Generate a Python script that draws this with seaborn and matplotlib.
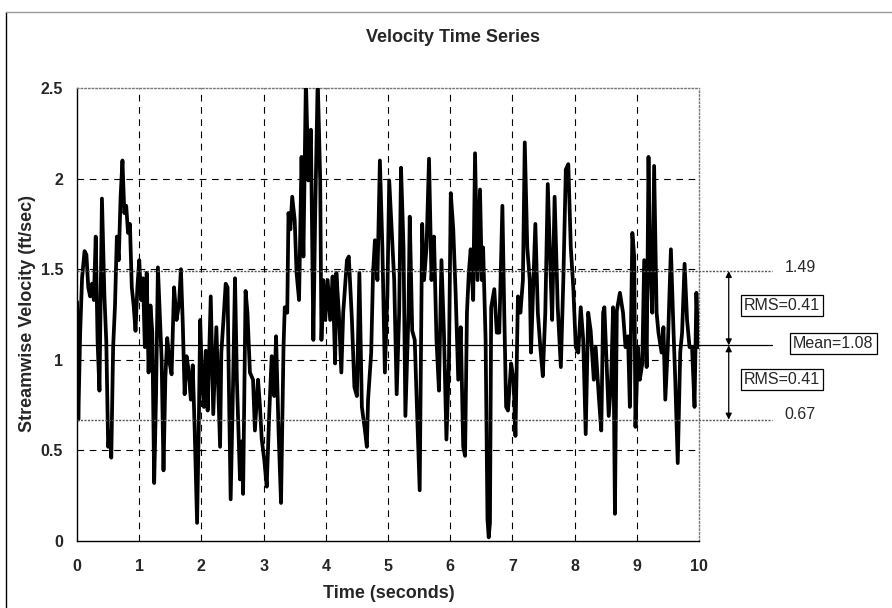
import pandas as pd
import matplotlib.pyplot as plt
import seaborn as sns
from matplotlib.lines import Line2D

# turning points of the trace
time_s = [
    0.00, 0.02, 0.05, 0.08, 0.12, 0.15, 0.18, 0.21, 0.24, 0.27, 0.30, 0.33, 0.36, 0.40, 0.44, 0.47,
    0.50, 0.53, 0.55, 0.58, 0.61, 0.64, 0.67, 0.70, 0.73, 0.76, 0.79, 0.82, 0.85, 0.88, 0.91, 0.94,
    0.97, 1.00, 1.03, 1.06, 1.09, 1.12, 1.15, 1.18, 1.21, 1.24, 1.27, 1.30, 1.33, 1.36, 1.39, 1.42,
    1.45, 1.49, 1.52, 1.56, 1.60, 1.64, 1.67, 1.70, 1.73, 1.76, 1.79, 1.83, 1.86, 1.89, 1.91, 1.93,
    1.96, 1.98, 2.01, 2.04, 2.07, 2.10, 2.15, 2.19, 2.24, 2.27, 2.30, 2.32, 2.36, 2.39, 2.42, 2.44,
    2.47, 2.51, 2.54, 2.57, 2.62, 2.65, 2.67, 2.71, 2.74, 2.78, 2.83, 2.86, 2.91, 2.94, 2.97, 3.01,
    3.05, 3.09, 3.13, 3.17, 3.20, 3.24, 3.28, 3.32, 3.34, 3.38, 3.40, 3.43, 3.46, 3.50, 3.53, 3.57,
    3.61, 3.64, 3.68, 3.72, 3.76, 3.80, 3.83, 3.87, 3.91, 3.93, 3.96, 3.99, 4.03, 4.07, 4.11, 4.15,
    4.17, 4.21, 4.25, 4.28, 4.34, 4.37, 4.42, 4.46, 4.50, 4.54, 4.58, 4.63, 4.66, 4.68, 4.73, 4.76,
    4.79, 4.83, 4.87, 4.91, 4.95, 4.99, 5.02, 5.06, 5.10, 5.14, 5.18, 5.21, 5.25, 5.28, 5.33, 5.35,
    5.39, 5.43, 5.47, 5.51, 5.55, 5.58, 5.62, 5.66, 5.70, 5.74, 5.78, 5.82, 5.86, 5.90, 5.94, 5.98,
    6.01, 6.05, 6.09, 6.13, 6.17, 6.21, 6.24, 6.27, 6.30, 6.33, 6.37, 6.40, 6.44, 6.48, 6.51, 6.53,
    6.57, 6.60, 6.62, 6.64, 6.66, 6.71, 6.75, 6.79, 6.84, 6.87, 6.90, 6.93, 6.98, 7.02, 7.05, 7.09,
    7.13, 7.17, 7.20, 7.24, 7.28, 7.30, 7.34, 7.37, 7.41, 7.45, 7.49, 7.53, 7.57, 7.61, 7.64, 7.68,
    7.73, 7.78, 7.82, 7.86, 7.90, 7.94, 7.98, 8.02, 8.06, 8.10, 8.14, 8.18, 8.22, 8.26, 8.31, 8.34,
    8.39, 8.43, 8.46, 8.48, 8.52, 8.55, 8.59, 8.62, 8.65, 8.68, 8.73, 8.78, 8.82, 8.86, 8.89, 8.93,
    8.96, 8.98, 9.02, 9.05, 9.09, 9.12, 9.16, 9.19, 9.21, 9.25, 9.28, 9.32, 9.35, 9.40, 9.43, 9.46,
    9.50, 9.55, 9.59, 9.62, 9.66, 9.70, 9.73, 9.77, 9.81, 9.85, 9.89, 9.93, 9.96, 9.99,
]
velocity = [
    1.32, 0.67, 1.15, 1.45, 1.60, 1.58, 1.40, 1.35, 1.42, 1.33, 1.68, 1.10, 0.83, 1.89, 1.35, 1.10,
    0.52, 0.60, 0.46, 1.07, 1.30, 1.68, 1.55, 1.90, 2.10, 1.81, 1.85, 1.70, 1.75, 1.40, 1.30, 1.16,
    1.40, 1.55, 1.33, 1.45, 1.07, 1.48, 0.93, 1.30, 1.15, 0.32, 0.80, 1.51, 1.26, 1.00, 0.39, 0.90,
    1.12, 0.98, 0.92, 1.40, 1.22, 1.31, 1.50, 1.20, 0.81, 1.02, 0.95, 0.78, 0.97, 0.63, 0.37, 0.10,
    0.70, 1.22, 0.89, 0.74, 1.05, 0.72, 1.35, 0.70, 1.18, 0.85, 0.52, 1.04, 1.25, 1.42, 1.40, 0.89,
    0.23, 0.89, 1.45, 0.89, 0.34, 0.55, 0.26, 1.38, 1.26, 0.93, 0.89, 0.61, 0.89, 0.75, 0.56, 0.45,
    0.30, 0.70, 1.02, 0.80, 1.13, 0.61, 0.21, 1.07, 1.29, 1.26, 1.81, 1.72, 1.90, 1.77, 1.48, 1.33,
    2.12, 1.57, 2.55, 1.99, 2.27, 1.11, 1.81, 2.55, 1.99, 1.11, 1.44, 1.22, 1.44, 1.22, 1.46, 0.98,
    1.48, 1.26, 0.93, 1.26, 1.55, 1.57, 1.22, 0.85, 0.80, 1.48, 0.74, 0.61, 0.52, 0.78, 1.04, 1.48,
    1.66, 1.44, 2.10, 1.62, 0.93, 1.35, 1.99, 1.72, 1.44, 0.81, 1.26, 2.06, 1.62, 0.69, 1.26, 1.79,
    1.16, 1.11, 0.70, 0.28, 1.75, 1.44, 1.62, 2.11, 1.44, 1.68, 1.11, 0.83, 1.55, 1.15, 0.56, 0.98,
    1.92, 1.72, 1.35, 0.89, 1.18, 0.52, 0.47, 1.26, 1.48, 1.61, 1.33, 2.14, 1.44, 1.94, 1.44, 1.62,
    1.11, 0.12, 0.02, 0.10, 1.29, 1.39, 1.15, 1.15, 1.85, 1.26, 0.74, 0.72, 0.98, 0.89, 0.58, 1.35,
    1.26, 1.44, 2.20, 1.62, 1.44, 1.04, 1.44, 1.75, 1.26, 1.07, 0.91, 1.26, 1.97, 1.53, 1.22, 1.90,
    1.29, 0.96, 1.44, 2.05, 2.08, 1.62, 1.40, 1.07, 1.04, 1.29, 1.11, 0.59, 1.26, 1.16, 0.89, 1.07,
    0.80, 0.61, 1.26, 1.29, 0.94, 0.69, 0.89, 1.29, 0.15, 1.27, 1.37, 1.26, 1.07, 1.13, 0.74, 1.70,
    1.57, 0.63, 1.07, 0.89, 0.98, 1.55, 0.96, 2.12, 1.62, 1.26, 2.07, 1.26, 1.15, 1.04, 1.18, 0.78,
    1.07, 1.61, 1.18, 0.89, 0.43, 1.04, 1.15, 1.53, 1.22, 1.07, 1.07, 0.74, 1.37, 1.07,
]

mean_v = 1.08
rms_v = 0.41
upper_v = 1.49
lower_v = 0.67
x_ticks = list(range(0, 11))
y_ticks = [0, 0.5, 1, 1.5, 2, 2.5]
y_ticklabels = ['0', '0.5', '1', '1.5', '2', '2.5']

sns.set_style("white")
plt.rcParams['font.family'] = ['Liberation Sans', 'DejaVu Sans']

fig = plt.figure(figsize=(8.92, 6.08), dpi=100)
ax = fig.add_axes([0.0864, 0.1102, 0.6971, 0.745])

df = pd.DataFrame({'time': time_s, 'velocity': velocity})

# grid first so the trace sits on top
for yv in [0.5, 1, 1.5, 2]:
    ax.axhline(yv, color='black', lw=0.8, ls=(0, (6, 5)), zorder=1)
for xv in range(1, 10):
    ax.axvline(xv, color='black', lw=0.8, ls=(0, (6, 5)), zorder=1)

sns.lineplot(data=df, x='time', y='velocity', ax=ax, color='black', lw=2.7,
             estimator=None, sort=False, zorder=3)

ax.set_xlim(0, 10)
ax.set_ylim(0, 2.5)
ax.set_xticks(x_ticks)
ax.set_yticks(y_ticks)
ax.set_yticklabels(y_ticklabels)
ax.set_xlabel('')
ax.set_ylabel('')
ax.tick_params(axis='both', labelsize=11.5, direction='out', length=4, width=0.8, color='black')
ax.tick_params(axis='x', pad=9)
ax.tick_params(axis='y', pad=6)
for lab in ax.get_xticklabels() + ax.get_yticklabels():
    lab.set_fontweight('bold')

for side in ['left', 'bottom']:
    ax.spines[side].set_color('black')
    ax.spines[side].set_linewidth(1.0)
for side in ['top', 'right']:
    ax.spines[side].set_color('#777777')
    ax.spines[side].set_linewidth(1.0)
    ax.spines[side].set_linestyle(':')

# mean and +/- rms lines, running past the plot into the margin
line_end = 11.17
ax.plot([0, line_end], [mean_v, mean_v], color='black', lw=0.9, clip_on=False, zorder=4)
for yv in [upper_v, lower_v]:
    ax.plot([0, line_end], [yv, yv], color='#555555', lw=1.0, ls=(0, (1.5, 1)), clip_on=False, zorder=4)

arrow_x = 10.48
for y0, y1 in [(mean_v, upper_v), (lower_v, mean_v)]:
    ax.annotate('', xy=(arrow_x, y1), xytext=(arrow_x, y0), annotation_clip=False,
                arrowprops=dict(arrowstyle='<|-|>', color='black', lw=0.9,
                                mutation_scale=9, shrinkA=0, shrinkB=0))

ax.text(11.38, upper_v + 0.02, f'{upper_v:.2f}', ha='left', va='center', fontsize=11.5, clip_on=False)
ax.text(11.38, lower_v + 0.03, f'{lower_v:.2f}', ha='left', va='center', fontsize=11.5, clip_on=False)
box = dict(boxstyle='square,pad=0.2', fc='white', ec='black', lw=0.9)
ax.text(11.34, 1.30, f'RMS={rms_v:.2f}', ha='center', va='center', fontsize=11.5, bbox=box, clip_on=False)
ax.text(11.34, 0.89, f'RMS={rms_v:.2f}', ha='center', va='center', fontsize=11.5, bbox=box, clip_on=False)
ax.text(12.16, mean_v + 0.01, f'Mean={mean_v:.2f}', ha='center', va='center', fontsize=11.5, bbox=box,
        clip_on=False, zorder=5)

fig.text(453 / 892, 1 - 37 / 608, 'Velocity Time Series', ha='center', va='center',
         fontsize=13, fontweight='bold')
fig.text(389 / 892, 1 - 593 / 608, 'Time (seconds)', ha='center', va='center',
         fontsize=13, fontweight='bold')
fig.text(28 / 892, 1 - 313 / 608, 'Streamwise Velocity (ft/sec)', ha='center', va='center',
         rotation=90, fontsize=13, fontweight='bold')

# chart-area border (left and top edges show in the original)
fig.add_artist(Line2D([6 / 892, 6 / 892], [0, 1 - 12 / 608], transform=fig.transFigure,
                      color='black', lw=1.0))
fig.add_artist(Line2D([6 / 892, 1], [1 - 12 / 608, 1 - 12 / 608], transform=fig.transFigure,
                      color='#999999', lw=1.0))

fig.savefig('out.png', dpi=100)
